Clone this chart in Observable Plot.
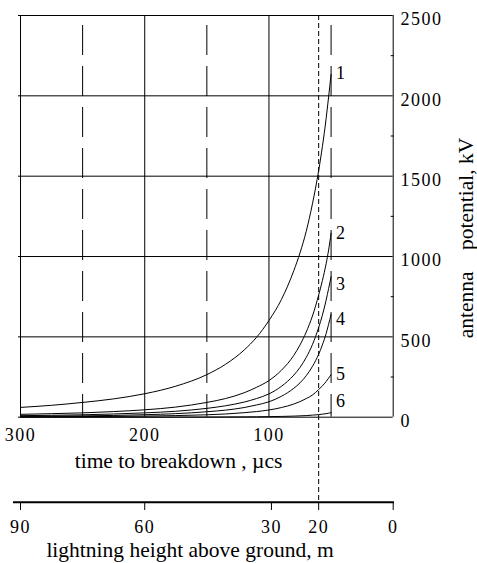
<!DOCTYPE html>
<html><head><meta charset="utf-8">
<script src="https://cdn.jsdelivr.net/npm/d3@7"></script>
<script src="https://cdn.jsdelivr.net/npm/@observablehq/plot@0.6"></script>
<style>
html,body{margin:0;padding:0;background:#fff;}
#chart svg{display:block;}
</style>
</head><body><div id="chart"></div>
<script>
// ---- data ----
const times  = [300, 275, 250, 225, 200, 175, 150, 135, 120, 110, 100, 90, 80, 75, 70, 65, 60, 57, 54, 52, 50];
const curve1 = [61, 74, 92, 114, 146, 193, 265, 329, 418, 497, 602, 732, 912, 1023, 1157, 1328, 1535, 1684, 1858, 1993, 2134];
const curve2 = [18, 22, 27, 35, 46, 63, 92, 116, 152, 186, 228, 292, 385, 450, 530, 630, 760, 850, 955, 1040, 1145];
const curve3 = [9.5, 12, 15, 20, 27, 37, 55, 71, 94, 116, 145, 192, 262, 310, 372, 452, 558, 635, 728, 800, 874];
const curve4 = [5, 6.5, 8.3, 11, 15.5, 22, 34, 44, 60, 76, 96, 130, 180, 214, 258, 316, 392, 450, 520, 578, 640];
const curve5 = [2.3, 3, 3.8, 5, 7, 10, 15, 20, 28, 35, 45, 60, 82, 97, 116, 138, 172, 195, 222, 243, 265];
const curve6 = [0.1, 0.2, 0.2, 0.3, 0.4, 0.7, 1, 1.4, 2, 2.6, 3.5, 4.8, 6.8, 8.3, 10, 13, 16, 19, 22, 25, 28];
const seriesNames = ["1", "2", "3", "4", "5", "6"];
const labelKV = [2142, 1143, 826, 608, 270, 98];
const kvTicks = [0, 500, 1000, 1500, 2000, 2500];
const kvMinorTicks = [250, 750, 1250, 1750, 2250];
const timeTicks = [300, 200, 100];
const timeDashed = [250, 150, 50];
const rightEdgeTime = [0];
const markerTime = [60];
const heightTicks = [90, 60, 30, 20, 0];
const heightTickTimes = [300, 200, 98, 60, 0];
const xTitle = "time to breakdown , \u00b5cs";
const x2Title = "lightning height above ground, m";
const yTitle = "antenna\u00a0\u00a0\u00a0\u00a0potential, kV";

// ---- build ----
const allCurves = [curve1, curve2, curve3, curve4, curve5, curve6];
const rows = [];
allCurves.forEach((c, k) => times.forEach((t, i) => rows.push({s: seriesNames[k], t, v: c[i]})));
const labelRows = seriesNames.map((s, k) => ({s, t: times[times.length - 1], v: labelKV[k]}));
const heightAt = new Map(heightTickTimes.map((t, i) => [t, heightTicks[i]]));

const W = 477, H = 563, mL = 20, mR = 84.3, mT = 15, mB = 146.3;
const frameCx = (mL + W - mR) / 2;
const frameCy = (mT + H - mB) / 2;
const ink = "#000";

const chart = Plot.plot({
  width: W, height: H,
  marginLeft: mL, marginRight: mR, marginTop: mT, marginBottom: mB,
  x: {domain: [300, 0], axis: null},
  y: {domain: [0, 2500], axis: null},
  style: {fontFamily: "'Liberation Serif', 'Times New Roman', serif", fontSize: "18px", color: ink, background: "#fff"},
  marks: [
    Plot.ruleY(kvTicks, {stroke: ink, strokeWidth: 1, insetLeft: -2}),
    Plot.ruleX(timeTicks, {stroke: ink, strokeWidth: 1}),
    Plot.ruleX(rightEdgeTime, {stroke: ink, strokeWidth: 1}),
    Plot.ruleX(timeDashed, {stroke: ink, strokeWidth: 1, strokeDasharray: "30,11", strokeDashoffset: 31}),
    Plot.ruleX(markerTime, {stroke: ink, strokeWidth: 1, strokeDasharray: "5,3", insetBottom: -85}),
    Plot.axisY(kvMinorTicks, {anchor: "right", label: null, tickSize: 3, dx: -3, tickFormat: () => "", stroke: ink}),
    Plot.axisY(kvTicks, {anchor: "right", label: null, tickSize: 0, tickPadding: 7.3, dy: 4, tickFormat: d => String(d), fontSize: 18, fill: ink}),
    Plot.axisX(timeTicks, {anchor: "bottom", label: null, tickSize: 0, tickPadding: 11.5, tickFormat: d => String(d), fontSize: 18, fill: ink}),
    Plot.line(rows, {x: "t", y: "v", z: "s", stroke: ink, strokeWidth: 1, curve: "monotone-x"}),
    Plot.text(labelRows, {x: "t", y: "v", text: "s", textAnchor: "start", dx: 5, lineAnchor: "middle", fontSize: 18, fill: ink}),
    // second (height) axis
    Plot.ruleY([0], {dy: 85, insetLeft: -7, insetRight: -1.3, stroke: ink, strokeWidth: 2}),
    Plot.axisX(heightTickTimes, {anchor: "bottom", label: null, tickSize: 7, dy: 86.3, tickPadding: 10, tickFormat: t => String(heightAt.get(t)), fontSize: 18, fill: ink, stroke: ink}),
    // titles
    Plot.text([xTitle], {frameAnchor: "bottom", textAnchor: "middle", dx: 178 - frameCx, dy: 44, lineAnchor: "middle", fontSize: 21.5, fill: ink}),
    Plot.text([x2Title], {frameAnchor: "bottom", textAnchor: "middle", dx: 189.5 - frameCx, dy: 133, lineAnchor: "middle", fontSize: 21.5, fill: ink}),
    Plot.text([yTitle], {frameAnchor: "right", textAnchor: "middle", rotate: -90, dx: 73.4, dy: 237.5 - frameCy, lineAnchor: "middle", fontSize: 21.5, fill: ink})
  ]
});

const titles = [xTitle, x2Title, yTitle];
const svg = d3.select(chart);
svg.selectAll("text").style("letter-spacing", "1.5px");
svg.selectAll("text").filter(function () { return titles.includes(this.textContent); }).style("letter-spacing", "0px");
document.getElementById("chart").append(chart);
</script>
</body></html>
